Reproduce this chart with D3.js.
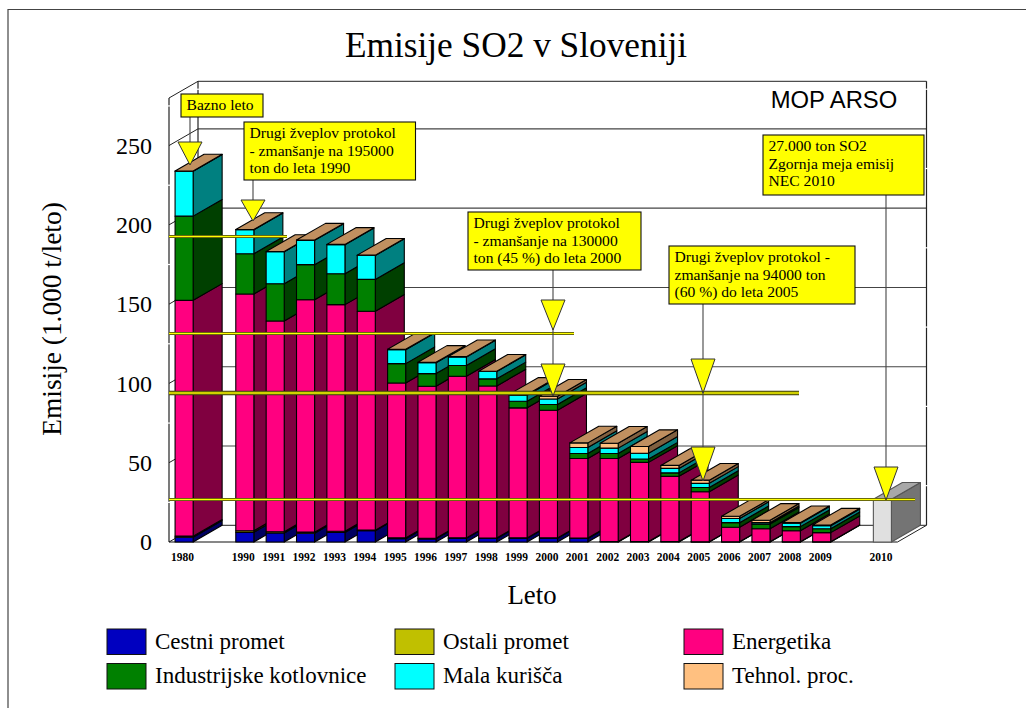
<!DOCTYPE html>
<html><head><meta charset="utf-8">
<script src="https://cdn.jsdelivr.net/npm/d3@7"></script>
<style>html,body{margin:0;padding:0;background:#fff}svg{display:block}text{fill:#000}</style>
</head><body><div id="c"></div>
<script>
const slots = ["1980","_a","1990","1991","1992","1993","1994","1995","1996","1997","1998","1999","2000","2001","2002","2003","2004","2005","2006","2007","2008","2009","_b","2010"];
const years = slots.filter(s => s[0] !== "_");
const yTicks = [0,50,100,150,200,250];
const yMinor = [25,75,125,175,225,275];
const cestni   = [3.0,6.1,5.7,5.5,6.0,7.1,2.1,2.0,2.3,2.2,2.3,2.3,2.2,0.2,0.2,0.2,0.1,0.1,0.1,0.1,0.1,0];
const ostali   = [0.7,1.0,0.8,0.7,0.8,0.4,0.5,0.4,0.3,0.3,0.3,0.3,0.3,0.1,0.1,0.1,0.1,0.1,0.1,0.1,0.1,0];
const energ    = [148.7,149.3,132.9,146.6,142.9,138.0,97.7,95.8,101.9,95.9,82.0,80.5,50.2,52.4,49.9,41.1,31.5,9.1,8.2,6.9,5.7,0];
const indust   = [53.1,25.4,23.5,22.1,19.5,20.1,12.2,8.0,6.8,4.5,4.2,3.6,3.1,3.1,2.1,2.2,2.7,2.9,2.9,2.6,2.5,0];
const mala     = [28.3,15.1,20.1,15.3,18.3,15.1,8.8,6.9,5.4,4.6,3.8,3.5,3.8,3.4,3.7,2.8,2.6,2.6,0.9,2.1,1.9,0];
const tehnol   = [0.2,0.2,0.2,0.2,0.2,0.2,0.2,0.2,0.2,0.2,0.5,1.7,2.9,3.1,4.2,1.9,2.0,1.4,1.5,0.4,0.4,0];
const nec      = [0,0,0,0,0,0,0,0,0,0,0,0,0,0,0,0,0,0,0,0,0,27];
const seriesNames = ["Cestni promet","Ostali promet","Energetika","Industrijske kotlovnice","Mala kurišča","Tehnol. proc."];
const refValues = [192.7,132,93.7,27];
const callouts = [
 ["Bazno leto"],
 ["Drugi žveplov protokol","- zmanšanje na 195000","ton do leta 1990"],
 ["Drugi žveplov protokol","- zmanšanje na 130000","ton (45 %) do leta 2000"],
 ["Drugi žveplov protokol -","zmanšanje na 94000 ton","(60 %) do leta 2005"],
 ["27.000 ton SO2","Zgornja meja emisij","NEC 2010"]
];

const W=1026,H=708, serif='"Liberation Serif","Times New Roman",serif';
const svg=d3.select("#c").append("svg").attr("width",W).attr("height",H);
const L=169,R=897.5,B=542,T=98,DX=29,DY=16.7;
const x=d3.scaleBand().domain(slots).range([L,R]).paddingInner(0.405).paddingOuter(0.2);
const y=d3.scaleLinear().domain([0,280]).range([B,T]);
const line=(a,b,c,d,col="#333",w=1)=>svg.append("line").attr("x1",a).attr("y1",b).attr("x2",c).attr("y2",d).attr("stroke",col).attr("stroke-width",w);

// frame
svg.append("path").attr("d",`M8 708V9.5H1026`).attr("fill","none").attr("stroke","#444").attr("stroke-width",1.2);

// walls
yTicks.slice(1).forEach(v=>{
  line(L,y(v),L+DX,y(v)-DY,"#222");
  line(L+DX,y(v)-DY,R+DX,y(v)-DY,"#444",1.1);
});
line(L,T,L+DX,T-DY,"#222"); line(L+DX,T-DY,R+DX,T-DY,"#222");
line(L,B,L+DX,B-DY,"#222"); line(L+DX,B-DY,R+DX,B-DY,"#222");
line(R,B,R+DX,B-DY,"#222");
line(L,T,L,B,"#222",1.2); line(L+DX,T-DY,L+DX,B-DY,"#222",1.2); line(R+DX,T-DY,R+DX,B-DY,"#222",1.2);
line(L,B,R,B,"#111",1.2);
yMinor.forEach(v=>{
  [L,L+DX,R+DX].forEach((px,i)=>{const yy=y(v)-(i?DY:0); line(px-2,yy,px+2,yy,"#fff",1.2);});
});

// bars
const cols=[
 {f:"#0000c0",s:"#000060",t:"#000090"},
 {f:"#c0c000",s:"#606000",t:"#909000"},
 {f:"#ff0080",s:"#800040",t:"#c00060"},
 {f:"#008000",s:"#004000",t:"#006000"},
 {f:"#00ffff",s:"#008080",t:"#00c0c0"},
 {f:"#ffc080",s:"#806040",t:"#c09060"}];
const stacks=[cestni,ostali,energ,indust,mala,tehnol];
const gBars=svg.append("g").attr("stroke","#000").attr("stroke-width",1.1).attr("stroke-linejoin","round");
const bw=x.bandwidth();
years.forEach((yr,i)=>{
  const g=gBars.append("g"); const x0=x(yr), x1=x0+bw;
  const face=(v0,v1,c)=>{
    if(v1-v0<=0) return;
    g.append("polygon").attr("points",[[x1,y(v0)],[x1+DX,y(v0)-DY],[x1+DX,y(v1)-DY],[x1,y(v1)]].join(" ")).attr("fill",c.s);
    g.append("rect").attr("x",x0).attr("y",y(v1)).attr("width",bw).attr("height",y(v0)-y(v1)).attr("fill",c.f);
  };
  let acc=0;
  stacks.forEach((arr,k)=>{ face(acc,acc+arr[i],cols[k]); acc+=arr[i]; });
  if(nec[i]>0){
    const c={f:"#e0e0e0",s:"#747474",t:"#a8a8a8"};
    g.attr("stroke","#555");
    face(0,nec[i],c);
    g.append("polygon").attr("points",[[x0,y(nec[i])],[x1,y(nec[i])],[x1+DX,y(nec[i])-DY],[x0+DX,y(nec[i])-DY]].join(" ")).attr("fill",c.t);
  } else {
    g.append("polygon").attr("points",[[x0,y(acc)],[x1,y(acc)],[x1+DX,y(acc)-DY],[x0+DX,y(acc)-DY]].join(" ")).attr("fill",cols[5].t);
  }
});

// axes
const ay=svg.append("g").attr("transform",`translate(${L},0)`).call(d3.axisLeft(y).tickValues(yTicks).tickSize(0).tickPadding(17));
ay.select(".domain").remove();
ay.selectAll("text").attr("font-family",serif).attr("font-size",24).attr("fill","#000");
const ax=svg.append("g").attr("transform",`translate(-1.5,${B})`).call(d3.axisBottom(x).tickValues(years).tickSize(0).tickPadding(10.5));
ax.select(".domain").remove();
ax.selectAll("text").attr("font-family",serif).attr("font-size",11.5).attr("font-weight","bold").attr("fill","#000");

// reference lines
const refEnd=[287,574,799,915];
refValues.forEach((v,i)=>{
  const thick=i===2, yy=Math.round(y(v))+(thick?0:0.5);
  line(L,yy,refEnd[i],yy,"#3a3a10",thick?4.4:3.2);
  line(L,yy,refEnd[i],yy,thick?"#d0d000":"#ffff00",thick?2.4:1.6);
});

// callouts
const boxes=[[181,94,82,23],[244,122,171.5,58],[468,212,173,58],[669,246,186,58],[763,135,161,60]];
const yellow="#ffff00";
const leaders=[[190,117,142],[253,180,200],[553,270,364],[703,304,447],[886,195,467]];
leaders.forEach(l=>line(l[0],l[1],l[0],l[2],"#444",1.1));
boxes.forEach((b,i)=>{
  svg.append("rect").attr("x",b[0]).attr("y",b[1]).attr("width",b[2]).attr("height",b[3]).attr("fill",yellow).attr("stroke","#111").attr("stroke-width",1.1);
  const t=svg.append("text").attr("font-family",serif).attr("font-size",15.6).attr("y",b[1]+16);
  callouts[i].forEach((s,j)=>t.append("tspan").attr("x",b[0]+5.5).attr("dy",j?17.6:0).text(s));
});
const tris=[[190,142,165],[253,200,221],[553,300,330],[553,364,396],[703,359,393],[703,447,481],[886,467,500]];
tris.forEach(t=>svg.append("polygon").attr("points",[[t[0]-12,t[1]],[t[0]+12,t[1]],[t[0],t[2]]].join(" ")).attr("fill",yellow).attr("stroke","#333").attr("stroke-width",1));

// titles
const txt=(s,a,b,fs,anc="middle",fam=serif)=>svg.append("text").attr("x",a).attr("y",b).attr("font-family",fam).attr("font-size",fs).attr("text-anchor",anc).text(s);
txt("Emisije SO2 v Sloveniji",516,57,35.3);
txt("MOP ARSO",834,107.5,23.8,"middle",'"Liberation Sans",Arial,sans-serif');
txt("Leto",532,604,26.8);
svg.append("text").attr("transform","translate(61,319) rotate(-90)").attr("font-family",serif).attr("font-size",27.4).attr("text-anchor","middle").text("Emisije (1.000 t/leto)");

// legend
const legendX=[107,395,684], legendY=[629,663.5];
const legendOrder=[[0,0],[1,0],[2,0],[0,1],[1,1],[2,1]];
seriesNames.forEach((name,k)=>{
  const [c,r]=legendOrder[k];
  svg.append("rect").attr("x",legendX[c]).attr("y",legendY[r]).attr("width",39).attr("height",25.5).attr("fill",cols[k].f).attr("stroke","#111").attr("stroke-width",1);
  txt(name,legendX[c]+48,legendY[r]+19.7,23,"start");
});
</script></body></html>
